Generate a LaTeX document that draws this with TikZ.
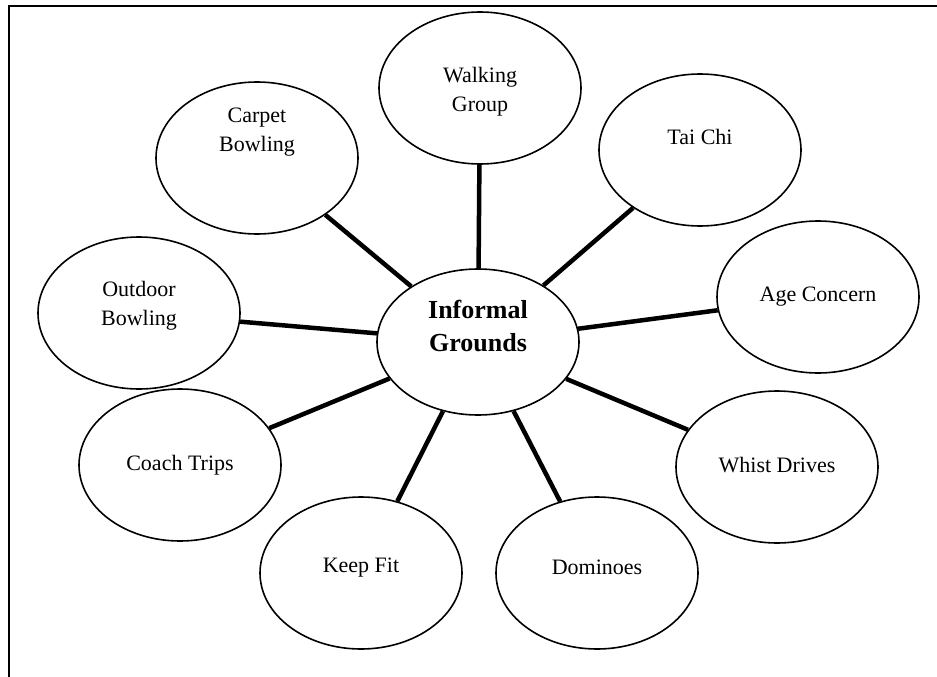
\documentclass[tikz,border=0pt]{standalone}
\usepackage{fontspec}
\setmainfont{Liberation Serif}
\usetikzlibrary{shapes.geometric}
\begin{document}
\begin{tikzpicture}[x=1pt,y=-1pt,
  bubble/.style={ellipse,draw,line width=1.6pt,minimum width=202pt,minimum height=152pt,inner sep=0pt},
  hub/.style={ellipse,draw,line width=1.6pt,minimum width=202pt,minimum height=146pt,inner sep=0pt},
  lbl/.style={align=center,font=\fontsize{22}{29}\selectfont},
  hublbl/.style={align=center,font=\fontsize{26}{33}\selectfont\bfseries},
  spoke/.style={line width=4.5pt}]
\useasboundingbox (0,0) rectangle (937,677);
% page frame (top and left rules)
\draw[line width=1.8pt] (9,677) -- (9,6) -- (937,6);

% ellipses
\node[hub] (hub) at (478,342) {};
\node[bubble] (wg) at (480,88) {};
\node[bubble] (cb) at (257,158) {};
\node[bubble] (tc) at (700,150) {};
\node[bubble] (ac) at (818,297) {};
\node[bubble] (ob) at (139,313) {};
\node[bubble] (ct) at (180,465) {};
\node[bubble] (wd) at (777,467) {};
\node[bubble] (kf) at (361,573) {};
\node[bubble] (dm) at (597,573) {};

% labels
\node[hublbl] (thub) at (478,326) {Informal\\Grounds};
\node[lbl] (twg) at (480,92) {Walking\\Group};
\node[lbl] (tcb) at (257,132) {Carpet\\Bowling};
\node[lbl] (ttc) at (700,137) {Tai Chi};
\node[lbl] (tac) at (818,297) {Age Concern};
\node[lbl] (tob) at (139,306) {Outdoor\\Bowling};
\node[lbl] (tct) at (180,465) {Coach Trips};
\node[lbl] (twd) at (777,465) {Whist Drives};
\node[lbl] (tkf) at (361,568) {Keep Fit};
\node[lbl] (tdm) at (597,567) {Dominoes};

% spokes
\foreach \n in {wg,cb,tc,ac,ob,ct,wd,kf,dm}
  \draw[spoke] (hub) -- (\n);
\end{tikzpicture}
\end{document}
